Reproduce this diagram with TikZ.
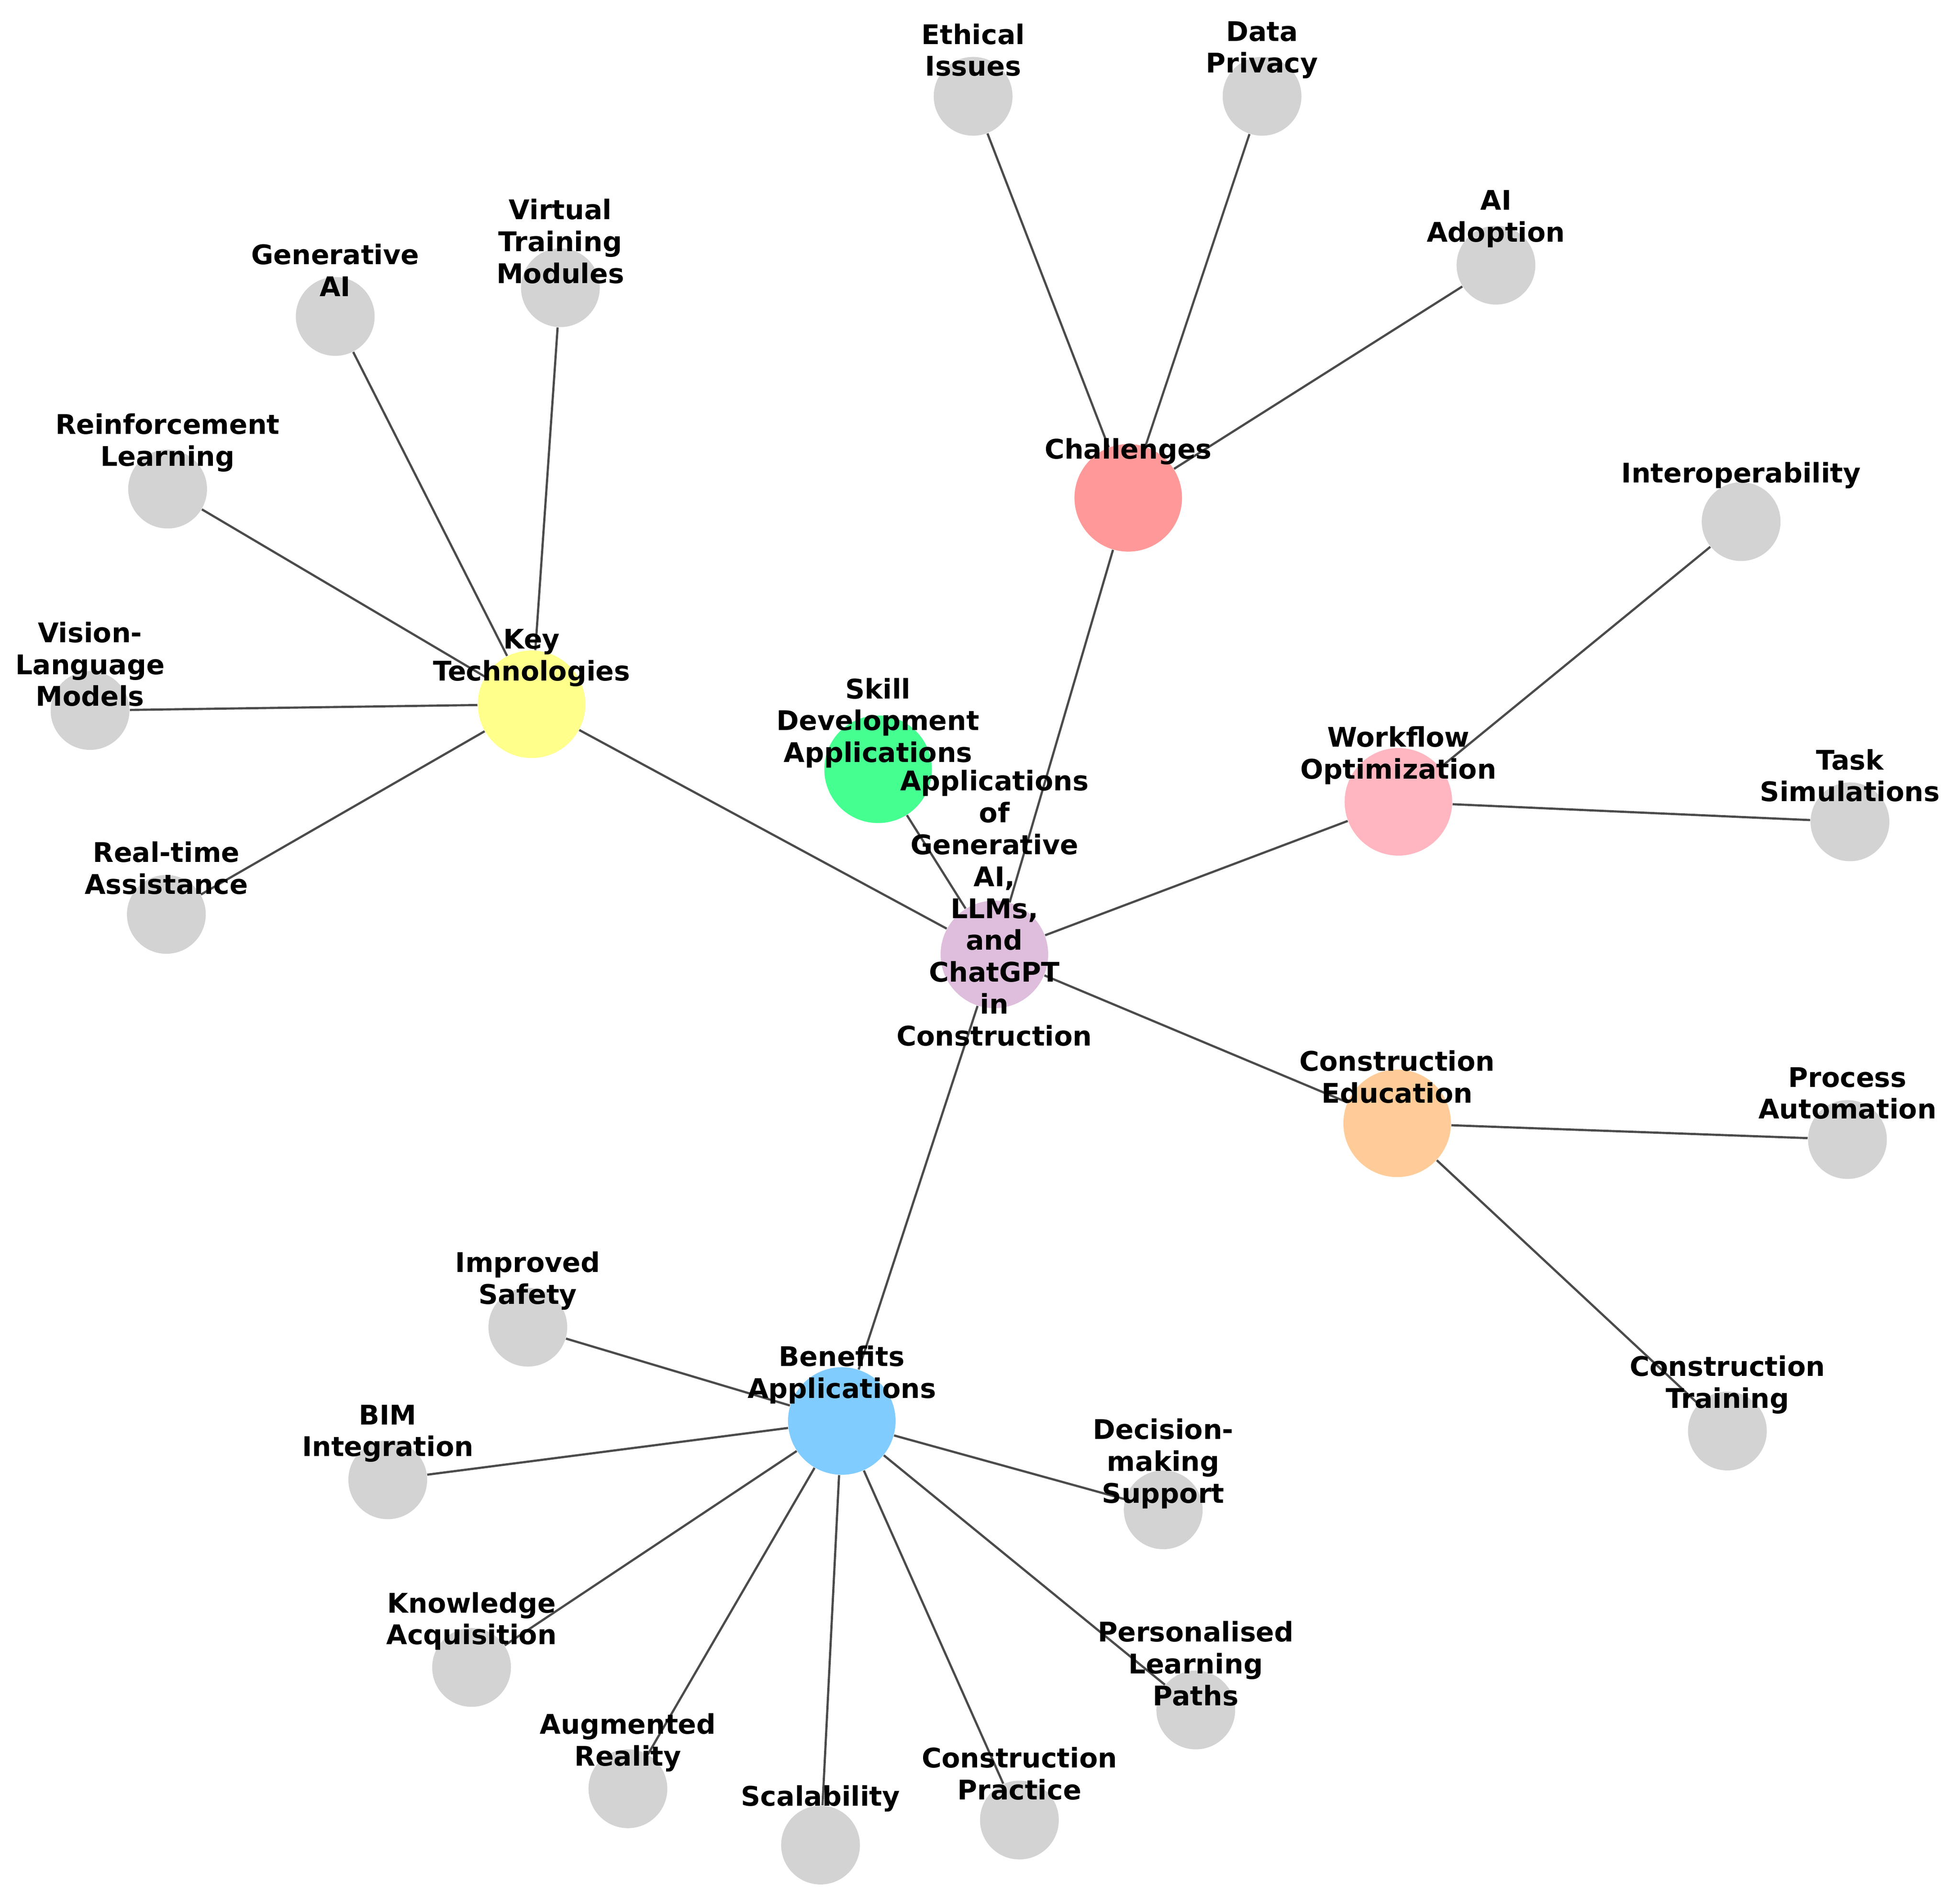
\documentclass[tikz,border=0pt]{standalone}
\usepackage{fontspec}
\setmainfont{DejaVu Sans}
\definecolor{ccenter}{RGB}{222,190,220}
\definecolor{ckey}{RGB}{255,255,140}
\definecolor{cskill}{RGB}{70,255,145}
\definecolor{cchal}{RGB}{255,153,153}
\definecolor{cwork}{RGB}{255,182,193}
\definecolor{cedu}{RGB}{255,204,153}
\definecolor{cben}{RGB}{128,204,255}
\definecolor{cleaf}{RGB}{211,211,211}
\definecolor{cedge}{RGB}{75,75,75}
\tikzset{
  hub/.style={circle,draw=none,minimum size=1.72cm,inner sep=0pt},
  leaf/.style={circle,draw=none,fill=cleaf,minimum size=1.26cm,inner sep=0pt},
  lbl/.style={align=center,inner sep=0pt,font=\fontsize{12.3}{14.5}\selectfont\bfseries},
  edge/.style={draw=cedge,line width=1pt}
}
\begin{document}
\begin{tikzpicture}[x=0.02cm,y=-0.02cm]
\useasboundingbox (0,0) rectangle (1567,1517);
% hubs
\node[hub,fill=ccenter] (c) at (795,763) {};
\node[hub,fill=ckey] (kt) at (425,563) {};
\node[hub,fill=cskill] (sd) at (702,615) {};
\node[hub,fill=cchal] (ch) at (902,398) {};
\node[hub,fill=cwork] (wo) at (1118,641) {};
\node[hub,fill=cedu] (ce) at (1117,898) {};
\node[hub,fill=cben] (ba) at (673,1136) {};
% leaves
\node[leaf] (ei) at (778,77) {};
\node[leaf] (dp) at (1009,77) {};
\node[leaf] (aa) at (1196,212) {};
\node[leaf] (io) at (1392,417) {};
\node[leaf] (ts) at (1479,657) {};
\node[leaf] (pa) at (1477,911) {};
\node[leaf] (ct) at (1381,1144) {};
\node[leaf] (dm) at (930,1207) {};
\node[leaf] (pl) at (956,1367) {};
\node[leaf] (cp) at (815,1455) {};
\node[leaf] (sc) at (656,1475) {};
\node[leaf] (ar) at (502,1430) {};
\node[leaf] (ka) at (377,1333) {};
\node[leaf] (bim) at (310,1183) {};
\node[leaf] (is) at (422,1061) {};
\node[leaf] (rt) at (133,731) {};
\node[leaf] (vl) at (72,568) {};
\node[leaf] (rl) at (134,391) {};
\node[leaf] (ga) at (268,253) {};
\node[leaf] (vt) at (448,230) {};
% edges
\foreach \a/\b in {c/kt,c/sd,c/ch,c/wo,c/ce,c/ba,
  ch/ei,ch/dp,ch/aa,
  kt/ga,kt/vt,kt/rl,kt/vl,kt/rt,
  wo/io,wo/ts,
  ce/pa,ce/ct,
  ba/is,ba/bim,ba/ka,ba/ar,ba/sc,ba/cp,ba/pl,ba/dm}
  \draw[edge] (\a) -- (\b);
% labels
\node[lbl] (lc) at (795,726) {Applications\\of\\Generative\\AI,\\LLMs,\\and\\ChatGPT\\in\\Construction};
\node[lbl] (lkt) at (425,526) {Key\\Technologies};
\node[lbl] (lsd) at (702,578) {Skill\\Development\\Applications};
\node[lbl] (lch) at (902,361) {Challenges};
\node[lbl] (lwo) at (1118,604) {Workflow\\Optimization};
\node[lbl] (lce) at (1117,861) {Construction\\Education};
\node[lbl] (lba) at (673,1099) {Benefits\\Applications};
\node[lbl] (lei) at (778,40) {Ethical\\Issues};
\node[lbl] (ldp) at (1009,40) {Data\\Privacy};
\node[lbl] (laa) at (1196,175) {AI\\Adoption};
\node[lbl] (lio) at (1392,380) {Interoperability};
\node[lbl] (lts) at (1479,620) {Task\\Simulations};
\node[lbl] (lpa) at (1477,874) {Process\\Automation};
\node[lbl] (lct) at (1381,1107) {Construction\\Training};
\node[lbl] (ldm) at (930,1170) {Decision-\\making\\Support};
\node[lbl] (lpl) at (956,1330) {Personalised\\Learning\\Paths};
\node[lbl] (lcp) at (815,1418) {Construction\\Practice};
\node[lbl] (lsc) at (656,1438) {Scalability};
\node[lbl] (lar) at (502,1393) {Augmented\\Reality};
\node[lbl] (lka) at (377,1296) {Knowledge\\Acquisition};
\node[lbl] (lbim) at (310,1146) {BIM\\Integration};
\node[lbl] (lis) at (422,1024) {Improved\\Safety};
\node[lbl] (lrt) at (133,694) {Real-time\\Assistance};
\node[lbl] (lvl) at (72,531) {Vision-\\Language\\Models};
\node[lbl] (lrl) at (134,354) {Reinforcement\\Learning};
\node[lbl] (lga) at (268,216) {Generative\\AI};
\node[lbl] (lvt) at (448,193) {Virtual\\Training\\Modules};
\end{tikzpicture}
\end{document}
